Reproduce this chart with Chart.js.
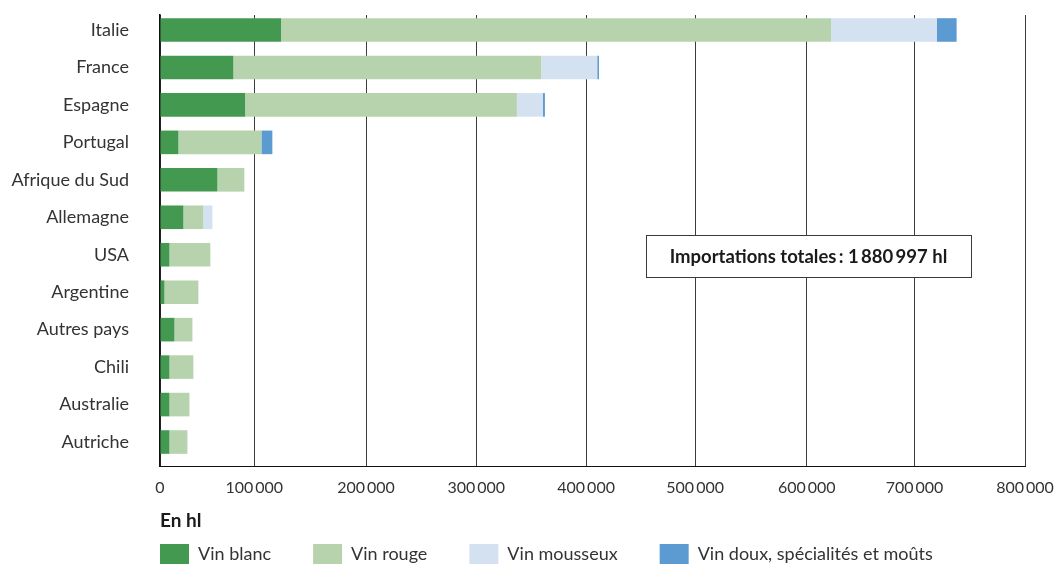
<!DOCTYPE html>
<html lang="fr">
<head>
<meta charset="utf-8">
<title>Importations de vin</title>
<script src="https://cdn.jsdelivr.net/npm/chart.js@4/dist/chart.umd.min.js"></script>
<style>
  html, body { margin: 0; padding: 0; background: #ffffff; }
  #wrap { position: relative; width: 1057px; height: 566px; }
</style>
</head>
<body>
<div id="wrap"><canvas id="chart" width="1057" height="566"></canvas></div>
<script>
// ---------- DATA (hl) ----------
const categories = ['Italie', 'France', 'Espagne', 'Portugal', 'Afrique du Sud', 'Allemagne',
  'USA', 'Argentine', 'Autres pays', 'Chili', 'Australie', 'Autriche'];
const vinBlanc    = [124000, 77800, 90300, 19500, 60900, 24800, 10000, 4700, 15300, 10000, 10000, 10000];
const vinRouge    = [498500, 281300, 246700, 86900, 28600, 21200, 43400, 36000, 19100, 25400, 21200, 19100];
const vinMousseux = [97800, 51100, 23600, 0, 0, 9600, 0, 0, 0, 0, 0, 0];
const vinDoux     = [17800, 1600, 1900, 9800, 0, 0, 0, 0, 0, 0, 0, 0];
const seriesNames = ['Vin blanc', 'Vin rouge', 'Vin mousseux', 'Vin doux, spécialités et moûts'];
const xTickValues = [0, 100000, 200000, 300000, 400000, 500000, 600000, 700000, 800000];
const unitLabel = 'En hl';
const totalLabel = 'Importations totales\u2009: 1\u2009880\u2009997 hl';

// ---------- STYLE ----------
const colors = ['#43994f', '#b7d3ae', '#d4e1f1', '#5b9bd1'];
// relative position of each x tick along the axis (the reference axis is not evenly spaced)
const xTickFractions = [0, 0.10897, 0.23816, 0.36561, 0.49260, 0.61867, 0.74775, 0.87231, 1];
const FONT = 'Lato, "Open Sans", sans-serif';

function valueToDecimal(v) {
  const n = xTickValues.length;
  if (v <= xTickValues[0]) return xTickFractions[0] + (v - xTickValues[0]) / (xTickValues[1] - xTickValues[0]) * (xTickFractions[1] - xTickFractions[0]);
  for (let i = 1; i < n; i++) {
    if (v <= xTickValues[i]) {
      const t = (v - xTickValues[i - 1]) / (xTickValues[i] - xTickValues[i - 1]);
      return xTickFractions[i - 1] + t * (xTickFractions[i] - xTickFractions[i - 1]);
    }
  }
  return 1 + (v - xTickValues[n - 1]) / (xTickValues[n - 1] - xTickValues[n - 2]) * (xTickFractions[n - 1] - xTickFractions[n - 2]);
}
function decimalToValue(d) {
  const n = xTickFractions.length;
  for (let i = 1; i < n; i++) {
    if (d <= xTickFractions[i] || i === n - 1) {
      const t = (d - xTickFractions[i - 1]) / (xTickFractions[i] - xTickFractions[i - 1]);
      return xTickValues[i - 1] + t * (xTickValues[i] - xTickValues[i - 1]);
    }
  }
  return 0;
}

class PiecewiseScale extends Chart.LinearScale {
  getPixelForValue(value) { return this.getPixelForDecimal(valueToDecimal(value)); }
  getValueForPixel(pixel) { return decimalToValue(this.getDecimalForPixel(pixel)); }
}
PiecewiseScale.id = 'piecewise';
PiecewiseScale.defaults = Chart.LinearScale.defaults;
Chart.register(PiecewiseScale);

Chart.defaults.font.family = FONT;
Chart.defaults.color = '#333333';

const fmt = v => v === 0 ? '0' : String(v).replace(/\B(?=(\d{3})+(?!\d))/g, '\u2009');

const LEGEND_PAD = 42;

const layoutPlugin = {
  id: 'layoutExtras',
  afterLayout(chart) {
    const lg = chart.legend;
    if (lg) {
      lg.left = chart.chartArea.left - LEGEND_PAD;
      lg.top = chart.chartArea.bottom + 78 - LEGEND_PAD;
    }
  },
  afterDraw(chart) {
    const ctx = chart.ctx;
    const ca = chart.chartArea;
    ctx.save();
    // unit label
    ctx.font = 'bold 19px ' + FONT;
    ctx.fillStyle = '#1a1a1a';
    ctx.textAlign = 'left';
    ctx.textBaseline = 'middle';
    ctx.fillText(unitLabel, ca.left, ca.bottom + 55);
    // total box
    const bx = ca.left + 486, by = ca.top + 220, bw = 325, bh = 42;
    ctx.fillStyle = '#ffffff';
    ctx.fillRect(bx, by, bw, bh);
    ctx.strokeStyle = '#3a3a3a';
    ctx.lineWidth = 1;
    ctx.strokeRect(bx + 0.5, by + 0.5, bw, bh);
    ctx.font = 'bold 18.5px ' + FONT;
    ctx.fillStyle = '#1a1a1a';
    ctx.textAlign = 'center';
    ctx.fillText(totalLabel, bx + bw / 2, by + bh / 2 + 1);
    ctx.restore();
  }
};

const seriesData = [vinBlanc, vinRouge, vinMousseux, vinDoux];
const datasets = seriesData.map((d, i) => ({
  label: seriesNames[i],
  data: d,
  backgroundColor: colors[i],
  borderWidth: 0,
  categoryPercentage: 0.63,
  barPercentage: 1
}));

new Chart(document.getElementById('chart'), {
  type: 'bar',
  data: { labels: categories, datasets },
  plugins: [layoutPlugin],
  options: {
    indexAxis: 'y',
    responsive: false,
    animation: false,
    layout: { autoPadding: false, padding: { top: 15, right: 32, bottom: 0, left: 0 } },
    scales: {
      x: {
        type: 'piecewise',
        stacked: true,
        min: 0,
        max: 800000,
        afterBuildTicks: s => { s.ticks = xTickValues.map(v => ({ value: v })); },
        afterFit: s => { s.height = 28; s.paddingLeft = 0; s.paddingRight = 0; },
        grid: { color: '#3c3c3c', lineWidth: 1, drawTicks: false },
        border: { display: true, color: '#111111', width: 1 },
        ticks: { callback: fmt, font: { size: 16 }, padding: 12, maxRotation: 0, autoSkip: false, color: '#333333' }
      },
      y: {
        stacked: true,
        afterBuildTicks: s => { s._startValue = -0.4; s._valueRange = 12.04; },
        afterFit: s => { s.width = 160; s.paddingTop = 0; s.paddingBottom = 0; },
        grid: { display: false, drawTicks: false },
        border: { display: true, color: '#111111', width: 1.6 },
        ticks: { font: { size: 18 }, padding: 31, color: '#333333' }
      }
    },
    plugins: {
      legend: {
        position: 'bottom',
        align: 'start',
        labels: { boxWidth: 29, boxHeight: 20, padding: LEGEND_PAD, font: { size: 18 }, color: '#333333' }
      },
      tooltip: { enabled: false }
    }
  }
});
</script>
</body>
</html>
